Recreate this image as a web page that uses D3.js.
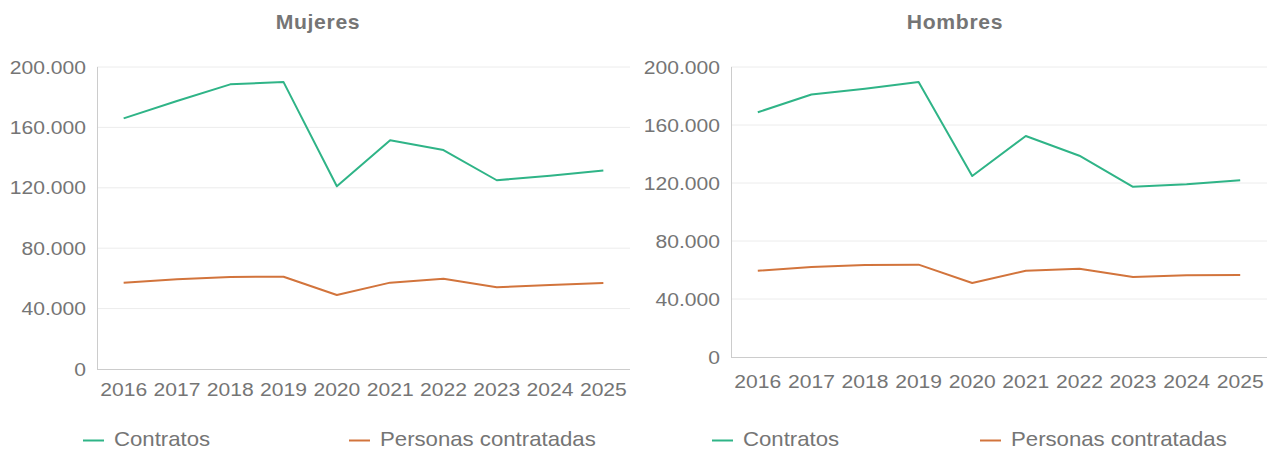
<!DOCTYPE html>
<html>
<head>
<meta charset="utf-8">
<script src="https://d3js.org/d3.v7.min.js"></script>
<style>
  body { margin: 0; background: #fff; }
  text { font-family: "Liberation Sans", Arial, sans-serif; fill: #757575; }
</style>
</head>
<body>
<div id="chart"></div>
<script>
// data
var years = ["2016","2017","2018","2019","2020","2021","2022","2023","2024","2025"];
var yTicks = [0, 40000, 80000, 120000, 160000, 200000];
var seriesNames = ["Contratos", "Personas contratadas"];
var seriesColors = ["#2fb487", "#d2743c"];

var mujeresContratos = [166000, 177500, 188500, 190000, 121000, 151500, 145000, 125000, 128000, 131500];
var mujeresPersonas  = [57200, 59400, 61000, 61100, 49000, 57200, 59800, 54100, 55600, 57000];
var hombresContratos = [168800, 181000, 185000, 189700, 124800, 152400, 138800, 117400, 119100, 121900];
var hombresPersonas  = [59500, 62000, 63400, 63700, 51000, 59500, 60900, 55200, 56300, 56600];

var W = 1267, H = 450;
var svg = d3.select("#chart").append("svg")
  .attr("width", W).attr("height", H);

var fmt = function(v) { return d3.format(",")(v).replace(/,/g, "."); };

// text in the reference is a bit wider than Liberation Sans, so stretch it
var SX = 1.11;
function place(x, y, sx) {
  return "translate(" + x + "," + y + ") scale(" + (sx || SX) + ",1)";
}

function drawPanel(opt) {
  var g = svg.append("g");

  var x = d3.scalePoint().domain(years).range([opt.left, opt.right]).padding(0.5);
  var y = d3.scaleLinear().domain([0, 200000]).range([opt.bottom, opt.top]);

  // grid lines
  g.selectAll(".grid").data(yTicks.filter(function(d){ return d > 0; }))
    .enter().append("line")
      .attr("x1", opt.left).attr("x2", opt.right)
      .attr("y1", function(d){ return y(d); }).attr("y2", function(d){ return y(d); })
      .attr("stroke", "#ececec").attr("stroke-width", 1);

  // y labels
  g.selectAll(".ylab").data(yTicks)
    .enter().append("text")
      .attr("transform", function(d){ return place(opt.left - 11, y(d)); })
      .attr("dy", "0.35em")
      .attr("text-anchor", "end")
      .attr("font-size", "19px")
      .text(fmt);

  // axes lines
  g.append("line")
    .attr("x1", opt.left + 0.5).attr("x2", opt.left + 0.5)
    .attr("y1", opt.top).attr("y2", opt.bottom)
    .attr("stroke", "#cccccc");
  g.append("line")
    .attr("x1", opt.left).attr("x2", opt.right)
    .attr("y1", opt.bottom + 0.5).attr("y2", opt.bottom + 0.5)
    .attr("stroke", "#cccccc");

  // x labels
  g.selectAll(".xlab").data(years)
    .enter().append("text")
      .attr("transform", function(d){ return place(x(d), opt.bottom + opt.xLabelGap); })
      .attr("text-anchor", "middle")
      .attr("font-size", "19px")
      .text(function(d){ return d; });

  // lines
  var line = d3.line()
    .x(function(d, i){ return x(years[i]); })
    .y(function(d){ return y(d); });

  opt.series.forEach(function(s, i) {
    g.append("path")
      .datum(s)
      .attr("fill", "none")
      .attr("stroke", seriesColors[i])
      .attr("stroke-width", 2)
      .attr("stroke-linejoin", "round")
      .attr("d", line);
  });

  // title
  g.append("text")
    .attr("transform", place(opt.titleX, 29, 1.06))
    .attr("text-anchor", "middle")
    .attr("font-size", "20px")
    .attr("font-weight", "bold")
    .attr("letter-spacing", "0.6px")
    .text(opt.title);

  // legend
  seriesNames.forEach(function(name, i) {
    var lx = opt.legendX[i];
    g.append("line")
      .attr("x1", lx).attr("x2", lx + 21)
      .attr("y1", 440.5).attr("y2", 440.5)
      .attr("stroke", seriesColors[i]).attr("stroke-width", 2);
    g.append("text")
      .attr("transform", place(lx + 31, 446))
      .attr("font-size", "20px")
      .text(name);
  });
}

drawPanel({
  title: "Mujeres", titleX: 318,
  left: 97, right: 630, top: 67, bottom: 369, xLabelGap: 27,
  series: [mujeresContratos, mujeresPersonas],
  legendX: [83, 349]
});

drawPanel({
  title: "Hombres", titleX: 955,
  left: 731, right: 1267, top: 67, bottom: 357, xLabelGap: 31,
  series: [hombresContratos, hombresPersonas],
  legendX: [712, 980]
});
</script>
</body>
</html>
